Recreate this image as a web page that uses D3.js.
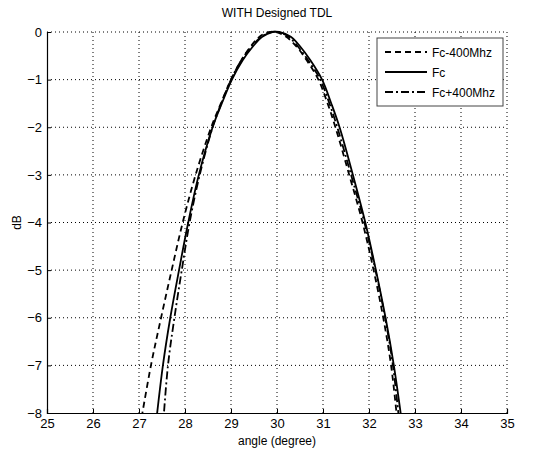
<!DOCTYPE html>
<html>
<head>
<meta charset="utf-8">
<script src="https://cdn.jsdelivr.net/npm/d3@7"></script>
<style>
  body { margin: 0; background: #fff; }
  svg text { font-family: "Liberation Sans", Arial, sans-serif; fill: #000; }
</style>
</head>
<body>
<svg id="chart" width="541" height="453"></svg>
<script>
// tick values
var xTicks = [25, 26, 27, 28, 29, 30, 31, 32, 33, 34, 35];
var yTicks = [0, -1, -2, -3, -4, -5, -6, -7, -8];

// shared dB levels the curves were read at (left flank, top, right flank)
var dbLevels = [-8.3, -7, -6, -5, -4, -3, -2, -1.5, -1, -0.6, -0.3, -0.1, 0, 0, -0.1, -0.3, -0.6, -1, -1.5, -2, -3, -4, -5, -6, -7, -8.3];

// Fc-400Mhz (dashed)
var angleLo = [27.02, 27.26, 27.48, 27.71, 27.95, 28.23, 28.57, 28.78, 29.0, 29.22, 29.43, 29.62, 29.82, 29.98, 30.2, 30.42, 30.65, 30.9, 31.1, 31.27, 31.57, 31.86, 32.1, 32.31, 32.48, 32.63];

// Fc (solid)
var angleFc = [27.36, 27.52, 27.68, 27.87, 28.07, 28.3, 28.6, 28.8, 29.02, 29.25, 29.48, 29.68, 29.9, 30.05, 30.3, 30.5, 30.73, 30.98, 31.18, 31.36, 31.65, 31.92, 32.15, 32.36, 32.54, 32.73];

// Fc+400Mhz (dash-dot)
var angleHi = [27.52, 27.63, 27.77, 27.93, 28.1, 28.32, 28.6, 28.79, 29.0, 29.22, 29.45, 29.66, 29.88, 30.02, 30.25, 30.45, 30.68, 30.94, 31.14, 31.31, 31.61, 31.9, 32.14, 32.35, 32.52, 32.67];

var seriesNames = ["Fc-400Mhz", "Fc", "Fc+400Mhz"];

var margin = {top: 32, right: 34, bottom: 40, left: 47};
var width = 541 - margin.left - margin.right;
var height = 453 - margin.top - margin.bottom;

var svg = d3.select("#chart");
var g = svg.append("g").attr("transform", "translate(" + margin.left + "," + margin.top + ")");

var x = d3.scaleLinear().domain([25, 35]).range([0, width]);
var y = d3.scaleLinear().domain([-8, 0]).range([height, 0]);

// grid
g.selectAll("line.gx")
    .data(xTicks.slice(1))
    .enter().append("line")
    .attr("class", "gx")
    .attr("x1", function(d) { return x(d); })
    .attr("x2", function(d) { return x(d); })
    .attr("y1", 0).attr("y2", height)
    .attr("stroke", "#000").attr("stroke-width", 1)
    .attr("stroke-dasharray", "1,3");

g.selectAll("line.gy")
    .data(yTicks.slice(0, -1))
    .enter().append("line")
    .attr("class", "gy")
    .attr("y1", function(d) { return y(d); })
    .attr("y2", function(d) { return y(d); })
    .attr("x1", 0).attr("x2", width)
    .attr("stroke", "#000").attr("stroke-width", 1)
    .attr("stroke-dasharray", "1,3");

// axes
var xAxis = d3.axisBottom(x).tickValues(xTicks).tickSize(-4).tickPadding(6);
var yAxis = d3.axisLeft(y).tickValues(yTicks).tickSize(-4).tickPadding(5);

var gx = g.append("g").attr("transform", "translate(0," + height + ")").call(xAxis);
var gy = g.append("g").call(yAxis);
[gx, gy].forEach(function(a) {
    a.select(".domain").attr("stroke", "#000").attr("stroke-width", 1.2);
    a.selectAll(".tick line").attr("stroke", "#000");
    a.selectAll(".tick text").attr("font-size", 13).attr("font-family", "Liberation Sans, Arial, sans-serif");
});

// clip
svg.append("defs").append("clipPath").attr("id", "clip")
    .append("rect").attr("x", 0).attr("y", -2).attr("width", width).attr("height", height + 2);

var lineSmooth = d3.line()
    .x(function(d) { return x(d[0]); })
    .y(function(d) { return y(d[1]); })
    .curve(d3.curveCatmullRom.alpha(0.5));

var series = [
    {name: seriesNames[0], pts: d3.zip(angleLo, dbLevels), dash: "6,4"},
    {name: seriesNames[1], pts: d3.zip(angleFc, dbLevels), dash: null},
    {name: seriesNames[2], pts: d3.zip(angleHi, dbLevels), dash: "8,3,2,3"}
];

var plot = g.append("g").attr("clip-path", "url(#clip)");
plot.selectAll("path.curve")
    .data(series)
    .enter().append("path")
    .attr("class", "curve")
    .attr("d", function(d) { return lineSmooth(d.pts); })
    .attr("fill", "none")
    .attr("stroke", "#000")
    .attr("stroke-width", 1.8)
    .attr("stroke-dasharray", function(d) { return d.dash; });

// title & labels
svg.append("text").attr("x", margin.left + width / 2).attr("y", 17)
    .attr("text-anchor", "middle").attr("font-size", 12).text("WITH Designed TDL");
svg.append("text").attr("x", margin.left + width / 2).attr("y", 445)
    .attr("text-anchor", "middle").attr("font-size", 12).text("angle (degree)");
svg.append("text").attr("transform", "translate(21," + (margin.top + height / 2) + ") rotate(-90)")
    .attr("text-anchor", "middle").attr("font-size", 12).text("dB");

// legend
var lg = svg.append("g").attr("transform", "translate(377,38)");
lg.append("rect").attr("width", 126).attr("height", 68)
    .attr("fill", "#fff").attr("stroke", "#444").attr("stroke-width", 1);
var items = lg.selectAll("g.item").data(series).enter().append("g")
    .attr("class", "item")
    .attr("transform", function(d, i) { return "translate(0," + (14 + i * 20) + ")"; });
items.append("line").attr("x1", 8).attr("x2", 50).attr("y1", 0).attr("y2", 0)
    .attr("stroke", "#000").attr("stroke-width", 1.8)
    .attr("stroke-dasharray", function(d) { return d.dash; });
items.append("text").attr("x", 55).attr("y", 4.5).attr("font-size", 12)
    .text(function(d) { return d.name; });
</script>
</body>
</html>
